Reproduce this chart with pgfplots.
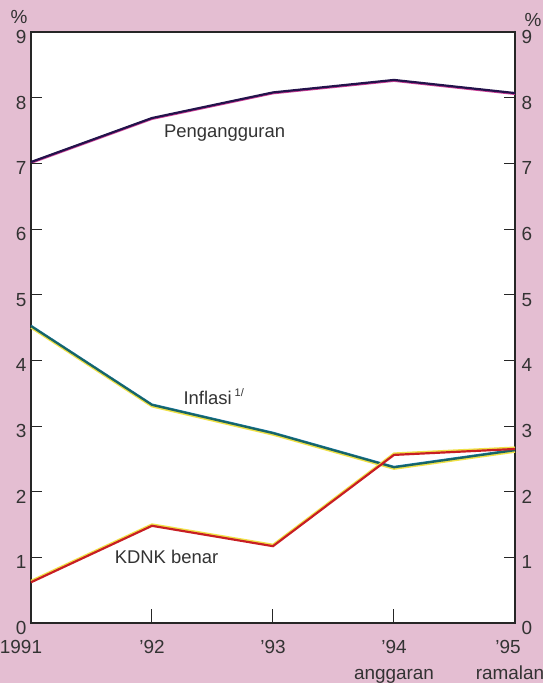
\documentclass[border=0pt]{standalone}
\usepackage{pgfplots}
\pgfplotsset{compat=1.18}
\usepackage{fontspec}
\setmainfont{Liberation Sans}
\definecolor{bgpink}{RGB}{228,190,210}
\definecolor{navyc}{RGB}{35,18,75}
\definecolor{magc}{RGB}{205,60,150}
\definecolor{tealc}{RGB}{25,100,100}
\definecolor{bluec}{RGB}{20,120,170}
\definecolor{yelc}{RGB}{240,225,70}
\definecolor{redc}{RGB}{200,30,35}
\begin{document}
\begin{tikzpicture}
\useasboundingbox (0bp,0bp) rectangle (543bp,683bp);
\fill[bgpink] (0bp,0bp) rectangle (543bp,683bp);
\pgfplotsset{common/.style={scale only axis, width=484bp, height=591bp,
  xmin=1991, xmax=1995, ymin=0, ymax=9, at={(31bp,60bp)}, anchor=south west,
  /pgf/number format/assume math mode=true}}
\begin{axis}[common,
  axis background/.style={fill=white},
  axis line style={line width=1.1bp, black!85},
  xtick={1991,1992,1993,1994,1995},
  xticklabels={{1991\hspace*{20bp}},{'92},{'93},{'94\\anggaran},{'95\hspace*{14bp}\\ramalan\hspace*{10bp}}},
  xtick pos=bottom, tick align=inside, major tick length=14bp,
  tick style={line width=1bp, black!85},
  ytick=\empty,
  xticklabel style={font=\fontsize{19}{26}\selectfont, align=center, yshift=-14bp, text=black!80},
  clip=false]
\addplot[magc, line width=1.5bp, yshift=-1.2bp] table {
1991 7.02
1992 7.69
1993 8.08
1994 8.27
1995 8.07
};
\addplot[navyc, line width=2.2bp] table {
1991 7.02
1992 7.69
1993 8.08
1994 8.27
1995 8.07
};
\addplot[yelc, line width=2bp, yshift=-1.5bp] table {
1991 4.52
1992 3.32
1993 2.89
1994 2.37
1995 2.63
};
\addplot[bluec, line width=1.5bp, yshift=0.8bp] table {
1991 4.52
1992 3.32
1993 2.89
1994 2.37
1995 2.63
};
\addplot[tealc, line width=2bp] table {
1991 4.52
1992 3.32
1993 2.89
1994 2.37
1995 2.63
};
\addplot[yelc, line width=2bp, yshift=1.5bp] table {
1991 0.62
1992 1.48
1993 1.17
1994 2.56
1995 2.65
};
\addplot[redc, line width=2.2bp] table {
1991 0.62
1992 1.48
1993 1.17
1994 2.56
1995 2.65
};
\node[font=\fontsize{18.5}{20}\selectfont, text=black!80] at (axis cs:1992.60,7.46) {Pengangguran};
\node[font=\fontsize{18.5}{20}\selectfont, text=black!80] at (axis cs:1992.51,3.45) {Inflasi\,\raisebox{8bp}{\fontsize{11}{11}\selectfont 1/}};
\node[font=\fontsize{18.5}{20}\selectfont, text=black!80] at (axis cs:1992.12,1.0) {KDNK benar};
\end{axis}
\begin{axis}[common, hide x axis, axis line style={draw=none},
  ytick={0,...,9}, ytick pos=left, yticklabel pos=left, tick align=inside,
  major tick length=11bp, tick style={line width=1bp, black!85},
  yticklabel style={font=\fontsize{19}{21}\selectfont, yshift=-5bp, xshift=-1bp, text=black!80}]
\end{axis}
\begin{axis}[common, hide x axis, axis line style={draw=none},
  ytick={0,...,9}, ytick pos=right, yticklabel pos=right, tick align=inside,
  major tick length=11bp, tick style={line width=1bp, black!85},
  yticklabel style={font=\fontsize{19}{21}\selectfont, yshift=-5bp, xshift=3bp, text=black!80}]
\end{axis}
\node[font=\fontsize{19}{21}\selectfont, text=black!80] at (19bp,666bp) {\%};
\node[font=\fontsize{19}{21}\selectfont, text=black!80] at (533bp,663bp) {\%};
\end{tikzpicture}
\end{document}
